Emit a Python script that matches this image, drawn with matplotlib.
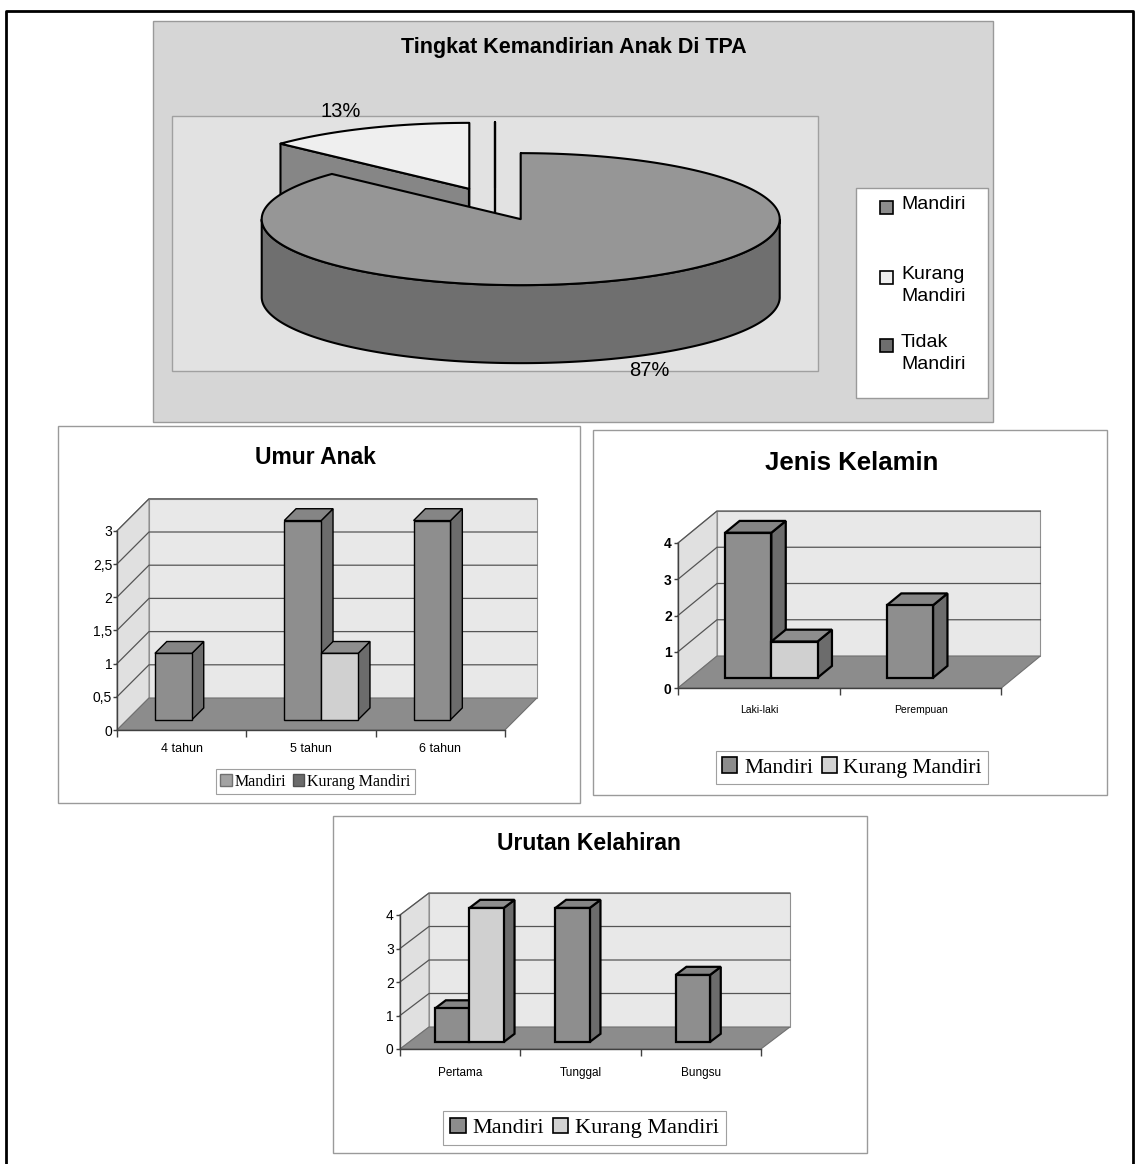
import numpy as np
import matplotlib
matplotlib.use("Agg")
import matplotlib.pyplot as plt
from matplotlib.patches import Polygon, Rectangle, Patch
from matplotlib import font_manager as fm

W, H = 1139, 1164

# ---- data ----
pie_labels = ["Mandiri", "Kurang\nMandiri", "Tidak\nMandiri"]
pie_pct = [87, 13, 0]

series_names = ["Mandiri", "Kurang Mandiri"]

umur_cats = ["4 tahun", "5 tahun", "6 tahun"]
umur_mandiri = [1, 3, 3]
umur_kurang = [0, 1, 0]
umur_ticks = [0, 0.5, 1, 1.5, 2, 2.5, 3]
umur_ticklabels = ["0", "0,5", "1", "1,5", "2", "2,5", "3"]

jk_cats = ["Laki-laki", "Perempuan"]
jk_mandiri = [4, 2]
jk_kurang = [1, 0]
jk_ticks = [0, 1, 2, 3, 4]

urut_cats = ["Pertama", "Tunggal", "Bungsu"]
urut_mandiri = [1, 4, 2]
urut_kurang = [4, 0, 0]
urut_ticks = [0, 1, 2, 3, 4]


def font_ok(name):
    try:
        fm.findfont(fm.FontProperties(family=name), fallback_to_default=False)
        return True
    except Exception:
        return False


SANS = "Liberation Sans"
NARROW = "Liberation Sans Narrow" if font_ok("Liberation Sans Narrow") else SANS
SERIF = "Liberation Serif"

fig = plt.figure(figsize=(W / 100, H / 100), dpi=100)
fig.patch.set_facecolor("white")

# canvas in pixel coordinates for frames, panels and the pie
cv = fig.add_axes([0, 0, 1, 1])
cv.set_xlim(0, W)
cv.set_ylim(H, 0)
cv.axis("off")

# page frame
cv.plot([6, 6, 1133, 1133], [H, 11, 11, H], color="black", lw=2, zorder=0.1)

# panels
cv.add_patch(Rectangle((153, 21), 840, 401, fc="#d6d6d6", ec="#9a9a9a", lw=1, zorder=0.2))
cv.add_patch(Rectangle((172, 116), 646, 255, fc="#e2e2e2", ec="#a0a0a0", lw=1, zorder=0.3))
for (x0, y0, x1, y1) in [(58, 426, 580, 803), (593, 430, 1107, 795), (333, 816, 867, 1153)]:
    cv.add_patch(Rectangle((x0, y0), x1 - x0, y1 - y0, fc="white", ec="#9a9a9a", lw=1, zorder=0.2))

# ---- 3D pie ----
PCX, PCY = 495, 204      # pie centre (pixels)
PA, PB, PH = 259, 66, 78  # ellipse radii and thickness
EXPL = 0.25
pie_top = ["#969696", "#efefef", "#6e6e6e"]
pie_side = ["#6f6f6f", "#868686", "#555555"]


def ell(cx, cy, th, z=0.0):
    t = np.radians(th)
    return cx + PA * np.cos(t), cy - PB * np.sin(t) + z


total = float(sum(pie_pct))
start = 90.0
slices = []
for i, v in enumerate(pie_pct):
    span = 360.0 * v / total
    lo, hi = start - span, start
    mid = (lo + hi) / 2
    cx = PCX + EXPL * PA * np.cos(np.radians(mid))
    cy = PCY - EXPL * PB * np.sin(np.radians(mid))
    slices.append((cy, i, lo, hi, mid, cx))
    start = lo

z = 2
for cy, i, lo, hi, mid, cx in sorted(slices):
    # cut faces
    for th, nrm in ((hi, hi + 90), (lo, lo - 90)):
        if np.sin(np.radians(nrm)) <= 1e-6:
            rx, ry = ell(cx, cy, th)
            cv.add_patch(Polygon([(cx, cy), (rx, ry), (rx, ry + PH), (cx, cy + PH)],
                                 closed=True, fc=pie_side[i], ec="black", lw=1.5,
                                 joinstyle="round", zorder=z))
            z += 0.01
    # outer wall (front half only)
    th = np.linspace(lo, hi, 600)
    vis = np.sin(np.radians(th)) <= 0
    idx = np.flatnonzero(vis)
    if idx.size:
        runs = np.split(idx, np.flatnonzero(np.diff(idx) > 1) + 1)
        for r in runs:
            tx, ty = ell(cx, cy, th[r])
            bx_, by_ = ell(cx, cy, th[r][::-1], PH)
            pts = np.column_stack([np.r_[tx, bx_], np.r_[ty, by_]])
            cv.add_patch(Polygon(pts, closed=True, fc=pie_side[i], ec="black", lw=1.5,
                                 joinstyle="round", zorder=z))
            z += 0.01
    # top face
    tx, ty = ell(cx, cy, th)
    pts = np.column_stack([np.r_[cx, tx], np.r_[cy, ty]])
    cv.add_patch(Polygon(pts, closed=True, fc=pie_top[i], ec="black", lw=1.5,
                         joinstyle="round", zorder=z))
    z += 0.01
    if pie_pct[i] > 0:
        s = np.sin(np.radians(mid))
        lx = cx + 1.25 * PA * np.cos(np.radians(mid))
        ly = cy - 1.25 * PB * s + (PH if s < 0 else 0)
        cv.text(lx, ly - 2, f"{pie_pct[i]}%", ha="center", va="center", fontsize=14.5,
                family=NARROW, zorder=5)

cv.text(574, 48, "Tingkat Kemandirian Anak Di TPA", ha="center", va="center",
        fontsize=15.5, weight="bold", family=SANS, zorder=5)

# pie legend
cv.add_patch(Rectangle((856, 188), 132, 210, fc="white", ec="#9a9a9a", lw=1, zorder=3))
leg_y = [207, 277, 345]
for i, lab in enumerate(pie_labels):
    cv.add_patch(Rectangle((880, leg_y[i] - 6.5), 13, 13, fc=pie_top[i] if i != 0 else "#8c8c8c",
                           ec="black", lw=1.2, zorder=4))
    cv.text(901, leg_y[i] - 11, lab, ha="left", va="top", fontsize=14, family=NARROW,
            linespacing=1.35, zorder=4)

# ---- 3D column charts ----
WALL = "#e8e8e8"
WALL_SIDE = "#e0e0e0"
FLOOR = "#8c8c8c"
GRID = "#555555"


def bar3d(ox, oy, sx, sy, dxp, dyp, cats, vals, ticks, ticklabels, bar_lw,
          front, top, side, tick_kw, cat_kw, ypad, xpad):
    n = len(cats)
    ymax = ticks[-1]
    L, R = ox - 60, ox + n * sx + dxp + 10
    T, B = oy - ymax * sy - dyp - 10, oy + 45
    ax = fig.add_axes([L / W, 1 - B / H, (R - L) / W, (B - T) / H])
    ax.set_xlim((L - ox) / sx, (R - ox) / sx)
    ax.set_ylim((oy - B) / sy, (oy - T) / sy)
    ax.patch.set_visible(False)
    ddx, ddy = dxp / sx, dyp / sy

    ax.add_patch(Polygon([(0, 0), (ddx, ddy), (ddx, ymax + ddy), (0, ymax)],
                         fc=WALL_SIDE, ec="#909090", lw=0.8, zorder=1))
    ax.add_patch(Polygon([(ddx, ddy), (n + ddx, ddy), (n + ddx, ymax + ddy), (ddx, ymax + ddy)],
                         fc=WALL, ec="#909090", lw=0.8, zorder=1))
    ax.add_patch(Polygon([(0, 0), (n, 0), (n + ddx, ddy), (ddx, ddy)],
                         fc=FLOOR, ec="#707070", lw=0.8, zorder=1.2))
    for t in ticks[1:]:
        ax.plot([0, ddx, n + ddx], [t, t + ddy, t + ddy], color=GRID, lw=0.9, zorder=1.1)

    w = 1 / 3.5
    ns = len(vals)
    fx, fy = 0.32 * ddx, 0.32 * ddy
    bx, by = 0.37 * ddx, 0.37 * ddy
    zz = 3
    for i in range(n):
        for j in range(ns):
            v = vals[j][i]
            if v <= 0:
                continue
            x0 = i + 0.5 - ns * w / 2 + j * w + fx
            ax.add_patch(Polygon([(x0 + w, fy), (x0 + w + bx, fy + by), (x0 + w + bx, fy + v + by),
                                  (x0 + w, fy + v)], fc=side[j], ec="black", lw=bar_lw, zorder=zz))
            ax.add_patch(Polygon([(x0, fy + v), (x0 + w, fy + v), (x0 + w + bx, fy + v + by),
                                  (x0 + bx, fy + v + by)], fc=top[j], ec="black", lw=bar_lw, zorder=zz))
            ax.bar(x0, v, width=w, bottom=fy, align="edge", color=front[j], edgecolor="black",
                   lw=bar_lw, zorder=zz + 0.5)
            zz += 1

    for sp in ("top", "right"):
        ax.spines[sp].set_visible(False)
    ax.spines["left"].set_position(("data", 0))
    ax.spines["left"].set_bounds(0, ymax)
    ax.spines["bottom"].set_position(("data", 0))
    ax.spines["bottom"].set_bounds(0, n)
    for sp in ("left", "bottom"):
        ax.spines[sp].set_color("#404040")
        ax.spines[sp].set_linewidth(1)
        ax.spines[sp].set_zorder(2)
    ax.set_yticks(ticks, ticklabels, **tick_kw)
    ax.tick_params(axis="y", length=3, width=1, color="#404040", pad=ypad)
    ax.set_xticks(np.arange(n) + 0.5, cats, **cat_kw)
    ax.set_xticks(np.arange(n + 1), minor=True)
    ax.tick_params(axis="x", which="major", length=0, pad=xpad)
    ax.tick_params(axis="x", which="minor", length=5, width=1, color="#404040")
    return ax


front = ["#8e8e8e", "#d0d0d0"]
top = ["#858585", "#8e8e8e"]
side = ["#6c6c6c", "#6c6c6c"]

# Umur Anak
ax1 = bar3d(117, 730, 129.3, 66.4, 32, 32, umur_cats, [umur_mandiri, umur_kurang],
            umur_ticks, umur_ticklabels, 1.0, front, top, side,
            dict(fontsize=10, family=NARROW), dict(fontsize=9, family=NARROW), 0.5, 9)
cv.text(315, 458, "Umur Anak", ha="center", va="center", fontsize=16.5, weight="bold",
        family=NARROW, zorder=5)
h1 = [Patch(fc="#a3a3a3", ec="#707070", lw=1), Patch(fc="#6b6b6b", ec="#505050", lw=1)]
lg = ax1.legend(h1, series_names, loc="center", bbox_to_anchor=(315.5 / W, 1 - 781.5 / H),
                bbox_transform=fig.transFigure, ncol=2, frameon=True, fancybox=False,
                handlelength=0.7, handleheight=0.7, handletextpad=0.2, columnspacing=0.4,
                borderpad=0.3, prop=dict(family=SERIF, size=11.5))
lg.get_frame().set_edgecolor("#888888")
lg.get_frame().set_linewidth(0.8)

# Jenis Kelamin
ax2 = bar3d(678, 688, 161.7, 36.25, 39, 32, jk_cats, [jk_mandiri, jk_kurang],
            jk_ticks, [str(t) for t in jk_ticks], 1.6, front, top, side,
            dict(fontsize=10, family=SANS, weight="bold"), dict(fontsize=7.5, family=SANS), 1.5, 12)
cv.text(852, 463, "Jenis Kelamin", ha="center", va="center", fontsize=18.5, weight="bold",
        family=SANS, zorder=5)
h2 = [Patch(fc="#8c8c8c", ec="black", lw=1.2), Patch(fc="#d2d2d2", ec="black", lw=1.2)]
lg = ax2.legend(h2, series_names, loc="center", bbox_to_anchor=(852 / W, 1 - 767.5 / H),
                bbox_transform=fig.transFigure, ncol=2, frameon=True, fancybox=False,
                handlelength=0.7, handleheight=0.7, handletextpad=0.3, columnspacing=0.4,
                borderpad=0.3, prop=dict(family=SERIF, size=15.5))
lg.get_frame().set_edgecolor("#888888")
lg.get_frame().set_linewidth(0.8)

# Urutan Kelahiran
ax3 = bar3d(400, 1049, 120.3, 33.5, 29, 22, urut_cats, [urut_mandiri, urut_kurang],
            urut_ticks, [str(t) for t in urut_ticks], 1.6, front, top, side,
            dict(fontsize=10, family=SANS), dict(fontsize=8.5, family=SANS), 1.5, 13)
cv.text(589, 843, "Urutan Kelahiran", ha="center", va="center", fontsize=16.5, weight="bold",
        family=SANS, zorder=5)
lg = ax3.legend(h2, series_names, loc="center", bbox_to_anchor=(584.5 / W, 1 - 1128 / H),
                bbox_transform=fig.transFigure, ncol=2, frameon=True, fancybox=False,
                handlelength=0.7, handleheight=0.7, handletextpad=0.3, columnspacing=0.4,
                borderpad=0.3, prop=dict(family=SERIF, size=16))
lg.get_frame().set_edgecolor("#888888")
lg.get_frame().set_linewidth(0.8)

fig.savefig("out.png", dpi=100)
